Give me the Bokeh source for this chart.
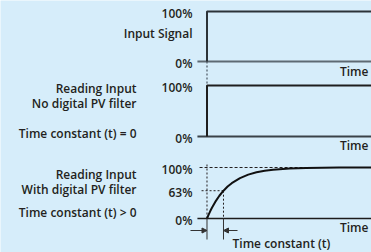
from bokeh.plotting import figure
from bokeh.models import Range1d, Label, Arrow, NormalHead
from bokeh.embed import file_html
from bokeh.resources import INLINE

# ---------------- data ----------------
step_time = 0.0          # time of the input step (in time-constant units)
tau_time = 1.0           # one time constant
end_time = 9.97
input_t = [step_time, step_time, end_time]
input_pct = [0, 100, 100]
nofilter_t = [step_time, step_time, end_time]
nofilter_pct = [0, 100, 100]
filter_t = [0, 0.1, 0.2, 0.3, 0.5, 0.75, 1.0, 1.25, 1.5, 2.0, 2.5, 3.0, 3.5, 4.0, 5.0, 6.0, 7.0, 8.0, 9.97]
filter_pct = [0, 7.6, 14.6, 21, 32.5, 44.6, 54.5, 62.6, 69.3, 79.3, 86, 90.6, 93.6, 95.7, 98, 99.1, 99.6, 100, 100]
tick_labels_1 = ["100%", "0%"]
tick_pct_1 = [100, 0]
tick_labels_2 = ["100%", "0%"]
tick_pct_2 = [100, 0]
tick_labels_3 = ["100%", "63%", "0%"]
tick_pct_3 = [100, 54.5, 0]
left_labels_1 = ["Input Signal"]
left_labels_2 = ["Reading Input", "No digital PV filter", "Time constant (t) = 0"]
left_labels_3 = ["Reading Input", "With digital PV filter", "Time constant (t) > 0"]
axis_title = "Time"
tau_title = "Time constant (t)"

# ---------------- layout (style) ----------------
W, H = 371, 252
BG = "#d6edfa"
INK = "#231f20"
FONT = "'Open Sans SemiBold', 'Open Sans'"
FS = "12px"
bases = [61, 136, 218]
heights = [50, 51, 51]
left_y = [[33], [88, 103, 133], [174, 188.5, 212]]
axis_start = -0.58

def ypos(panel, pct):
    return bases[panel] - pct / 100.0 * heights[panel]

p = figure(width=W, height=H, output_backend="svg", toolbar_location=None,
           x_range=Range1d(-12.515, 9.97), y_range=Range1d(H, 0),
           min_border=0, min_border_left=0, min_border_right=0,
           min_border_top=0, min_border_bottom=0)
p.axis.visible = False
p.grid.visible = False
p.outline_line_color = None
p.background_fill_color = BG
p.border_fill_color = BG

# axes (0% baselines)
axis_colors = ["#5e6a73", "#3a4248", "#1c1c1c"]
axis_widths = [2, 2, 1.6]
for i in range(3):
    y0 = ypos(i, 0)
    p.line([axis_start, end_time], [y0, y0], line_color=axis_colors[i], line_width=axis_widths[i])

# dotted guides
p.line([step_time, step_time], [ypos(0, 0), ypos(1, 100)], line_color="#4a5560",
       line_width=1.2, line_dash="2 2")
p.line([step_time, step_time], [ypos(2, 0), ypos(2, 100) - 4], line_color=INK,
       line_width=1, line_dash="2 2")
p.line([-0.45, end_time], [ypos(2, 100)] * 2, line_color=INK, line_width=1, line_dash="3 2")
p.line([-0.33, tau_time], [ypos(2, tick_pct_3[1])] * 2, line_color=INK, line_width=1, line_dash="2 2")
p.line([tau_time, tau_time], [ypos(2, tick_pct_3[1]), ypos(2, 0)], line_color=INK,
       line_width=1, line_dash="2 2")

# signals
p.line(input_t, [ypos(0, v) for v in input_pct], line_color="#2c3338", line_width=2)
p.line(nofilter_t, [ypos(1, v) for v in nofilter_pct], line_color="#1e1e1e", line_width=2)
p.line(filter_t, [ypos(2, v) for v in filter_pct], line_color="#111111", line_width=2)

# time-constant dimension marks
ytk0 = ypos(2, 0)
for t in (step_time, tau_time):
    p.line([t, t], [ytk0, ytk0 + 21], line_color="#333333", line_width=1)
ya = ytk0 + 12
p.add_layout(Arrow(x_start=-1.0, y_start=ya, x_end=step_time, y_end=ya,
                   line_color="#333333", line_width=1,
                   end=NormalHead(size=5, line_color="#333333", fill_color="#333333")))
p.add_layout(Arrow(x_start=1.85, y_start=ya, x_end=tau_time, y_end=ya,
                   line_color="#333333", line_width=1,
                   end=NormalHead(size=5, line_color="#333333", fill_color="#333333")))

def lab(x, y, text, dx, align):
    p.add_layout(Label(x=x, y=y, text=text, x_offset=dx, text_align=align,
                       text_baseline="middle", text_font=FONT, text_font_size=FS,
                       text_color=INK))

# percent ticks
for i, (labs, pcts) in enumerate([(tick_labels_1, tick_pct_1), (tick_labels_2, tick_pct_2),
                                  (tick_labels_3, tick_pct_3)]):
    for t, v in zip(labs, pcts):
        lab(step_time, ypos(i, v) + 1.5, t, -14.5, "right")

# left descriptions
lab(step_time, left_y[0][0], left_labels_1[0], -14.5, "right")
for i, labs in ((1, left_labels_2), (2, left_labels_3)):
    for t, y in zip(labs, left_y[i]):
        lab(step_time, y, t, -70.5, "right")

# time labels
for i, dy in enumerate([10, 9, 9]):
    lab(end_time, ypos(i, 0) + dy, axis_title, -3, "right")

lab(1.545, 243, tau_title, 0, "left")

open("out.html", "w").write(file_html(p, INLINE))
